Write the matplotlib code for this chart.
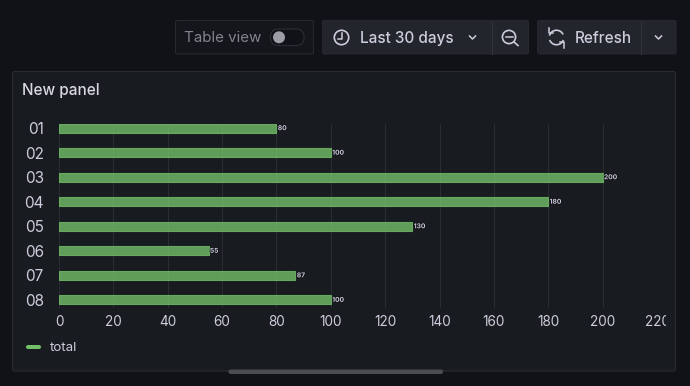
"""
Grafana panel screenshot: horizontal bars with the toolbar above
"""

import matplotlib
matplotlib.use('Agg')
import matplotlib.pyplot as plt
import matplotlib.patheffects as pe
from matplotlib.patches import FancyBboxPatch, Circle, Arc
from matplotlib.transforms import Bbox

plt.rcParams['font.family'] = ['Inter', 'DejaVu Sans']

# ====== data ======
categories = ['01', '02', '03', '04', '05', '06', '07', '08']
total = [80, 100, 200, 180, 130, 55, 87, 100]
x_ticks = [0, 20, 40, 60, 80, 100, 120, 140, 160, 180, 200, 220]

W, H = 690, 386
BG = '#111217'
PANEL = '#181b1f'
BTN = '#22252b'
BORDER = '#26282e'
TEXT = '#ccccdc'
GREEN = '#73bf69'

fig = plt.figure(figsize=(W / 100, H / 100), dpi=100, facecolor=BG)

# overlay in pixel coordinates for the UI chrome
ui = fig.add_axes([0, 0, 1, 1], zorder=0)
ui.set_xlim(0, W)
ui.set_ylim(H, 0)
ui.axis('off')


def box(x0, y0, x1, y1, fc, ec=BORDER, r=2, lw=0.8):
    ui.add_patch(FancyBboxPatch((x0, y0), x1 - x0, y1 - y0,
                                boxstyle=f'round,pad=0,rounding_size={r}',
                                fc=fc, ec=ec, lw=lw))


def chevron(cx, cy, c=TEXT):
    ui.plot([cx - 3, cx, cx + 3], [cy - 1.5, cy + 1.5, cy - 1.5], color=c, lw=1.1)


# panel
box(12.5, 71.5, 675.5, 371, PANEL, ec='#2a2c32')
ui.text(22, 90.5, 'New panel', color='#d8d9e2', fontsize=11, fontweight='medium',
        va='center', ha='left')

# table view toggle
box(175.5, 20.5, 313.5, 54, '#14161b', ec='#26282e')
ui.text(184, 38.5, 'Table view', color='#82838d', fontsize=10.9, va='center', ha='left')
box(270.5, 29, 304, 45.5, '#111217', ec='#2c2e35', r=8)
ui.add_patch(Circle((279, 37.3), 6, fc='#9d9da6', ec='none'))

# time range button group
box(322.5, 20.5, 528.5, 54, BTN)
ui.plot([491.5, 491.5], [20.5, 54], color='#31333a', lw=0.8)
ui.add_patch(Circle((341.5, 37.5), 7.2, fc='none', ec=TEXT, lw=1.2))
ui.plot([341.5, 341.5, 338], [33, 38.5, 38.5], color=TEXT, lw=1.1)
ui.text(360, 38.5, 'Last 30 days', color=TEXT, fontsize=11, fontweight='medium',
        va='center', ha='left')
chevron(472.5, 37.5)
ui.add_patch(Circle((509, 37), 6.6, fc='none', ec=TEXT, lw=1.2))
ui.plot([505.5, 512.5], [37, 37], color=TEXT, lw=1.1)
ui.plot([514, 518], [42, 45.5], color=TEXT, lw=1.2)

# refresh button group
box(537.5, 20.5, 676, 54, BTN)
ui.plot([641, 641], [20.5, 54], color='#31333a', lw=0.8)
ui.add_patch(Arc((556.5, 37.5), 14.5, 14.5, theta1=195, theta2=335, ec=TEXT, lw=1.2))
ui.add_patch(Arc((556.5, 37.5), 14.5, 14.5, theta1=20, theta2=160, ec=TEXT, lw=1.2))
ui.plot([549, 549, 553], [27.5, 33, 33], color=TEXT, lw=1.1)
ui.plot([564, 564, 560], [47.5, 42, 42], color=TEXT, lw=1.1)
ui.text(574.5, 38.5, 'Refresh', color=TEXT, fontsize=11, fontweight='medium',
        va='center', ha='left')
chevron(658.5, 37.5)

# legend swatch and scrollbar
box(26, 345, 41, 349, GREEN, ec='none', r=2)
ui.text(49.5, 348, 'total', color=TEXT, fontsize=9.6, va='center', ha='left')
box(228.5, 369.5, 443, 374, '#4b4c52', ec='none', r=2)

# ====== bar chart ======
# axes starts where the grid lines start, a little above the first bar
left, right, top, bottom = 59, 657, 123.7, 308.2
ax = fig.add_axes([left / W, 1 - bottom / H, (right - left) / W, (bottom - top) / H],
                  zorder=1)
ax.patch.set_alpha(0)
ax.barh(categories, total, height=0.37, color=GREEN, alpha=0.8,
        edgecolor=GREEN, linewidth=0.8, zorder=3)
ax.set_ylim(7.34, -0.18)
ax.set_xlim(0, 220)
ax.set_xticks(x_ticks)
ax.grid(axis='x', color='#2a2d32', linewidth=0.8, zorder=0)
ax.set_axisbelow(True)
for s in ax.spines.values():
    s.set_visible(False)
ax.tick_params(axis='both', length=0, labelcolor=TEXT)
ax.tick_params(axis='x', labelsize=9.8, pad=5.2)
ax.tick_params(axis='y', labelsize=11, pad=11)

# value label at the end of each bar, with the dark halo of the original
for i, v in enumerate(total):
    ax.text(v + 0.5, i, str(v), color=TEXT, fontsize=4.8, fontweight='bold',
            va='center', ha='left', zorder=4,
            path_effects=[pe.withStroke(linewidth=1, foreground='#111217')])

# the last tick label is cut off by the panel in the screenshot
clip = Bbox.from_extents(0, 0, 666, H)
for lab in ax.get_xticklabels():
    lab.set_clip_box(clip)
    lab.set_clip_on(True)

plt.savefig('out.png', dpi=100, facecolor=BG)
